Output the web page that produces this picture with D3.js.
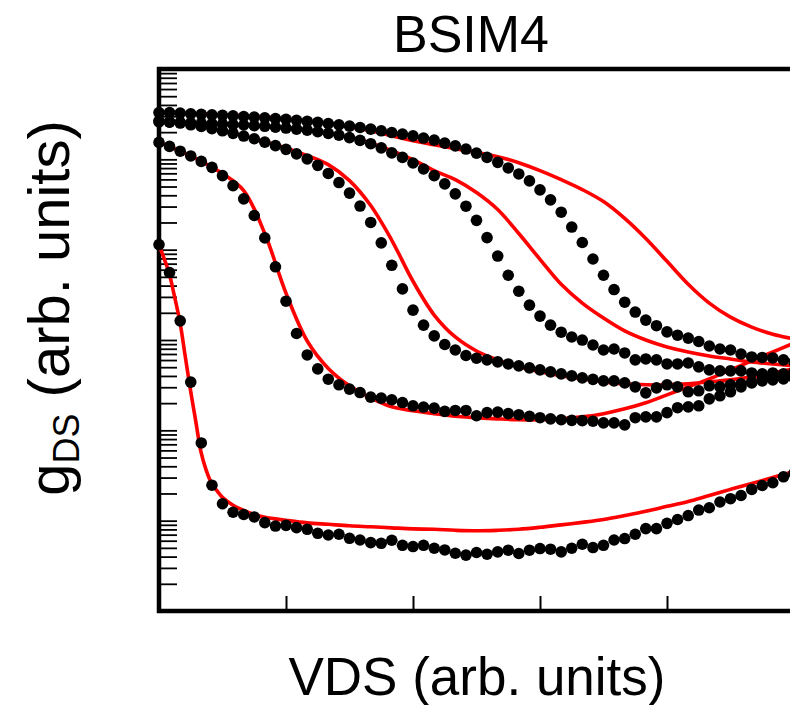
<!DOCTYPE html>
<html><head><meta charset="utf-8">
<script src="https://cdn.jsdelivr.net/npm/d3@7"></script>
<style>body{margin:0;background:#fff} svg{display:block}</style>
</head><body><svg id="c" width="790" height="705"></svg>
<script>
// Measured VDS grid (arb. units)
const vds = [0,0.083,0.167,0.25,0.333,0.417,0.5,0.583,0.667,0.75,0.833,0.917,
  1,1.083,1.167,1.25,1.333,1.417,1.5,1.583,1.667,1.75,1.833,1.917,
  2,2.083,2.167,2.25,2.333,2.417,2.5,2.583,2.667,2.75,2.833,2.917,
  3,3.083,3.167,3.25,3.333,3.417,3.5,3.583,3.667,3.75,3.833,3.917,
  4,4.083,4.167,4.25,4.333,4.417,4.5,4.583,4.667,4.75,4.833,4.917,5];

// Measured gDS (black dots)
const gds1 = [3.29e5,3.29e5,3.25e5,3.19e5,3.15e5,3.11e5,3.07e5,3.03e5,2.98e5,2.93e5,2.88e5,2.82e5,2.77e5,2.70e5,2.63e5,2.57e5,2.49e5,2.41e5,2.33e5,2.25e5,2.16e5,2.07e5,1.98e5,1.90e5,1.82e5,1.72e5,1.63e5,1.51e5,1.41e5,1.30e5,1.17e5,1.05e5,9.26e4,8.03e4,6.89e4,5.77e4,4.59e4,3.56e4,2.60e4,1.78e4,1.20e4,7.88e3,5.21e3,3.62e3,2.62e3,2.04e3,1.66e3,1.44e3,1.23e3,1.13e3,1.05e3,962,858,795,775,700,649,641,633,602,572];
const gds2 = [2.60e5,2.58e5,2.56e5,2.54e5,2.51e5,2.48e5,2.46e5,2.43e5,2.40e5,2.36e5,2.32e5,2.27e5,2.22e5,2.16e5,2.10e5,2.02e5,1.94e5,1.85e5,1.74e5,1.62e5,1.49e5,1.34e5,1.18e5,1.05e5,9.11e4,7.82e4,6.60e4,5.35e4,4.15e4,3.03e4,2.11e4,1.36e4,8.50e3,5.21e3,3.47e3,2.43e3,1.84e3,1.46e3,1.22e3,1.08e3,999,880,775,795,719,602,617,602,543,543,557,504,467,455,455,455,432,422,432,411,401];
const gds3 = [2.67e5,2.60e5,2.52e5,2.41e5,2.31e5,2.19e5,2.07e5,1.94e5,1.81e5,1.69e5,1.55e5,1.42e5,1.29e5,1.15e5,1.01e5,8.58e4,6.98e4,5.53e4,4.23e4,3.04e4,2.00e4,1.19e4,6.71e3,3.68e3,2.14e3,1.46e3,1.11e3,892,775,674,628,602,572,543,517,491,467,444,422,401,381,367,353,353,335,303,260,295,319,303,267,274,311,303,319,327,344,353,362,371,381];
const gds4 = [1.54e5,1.39e5,1.23e5,1.09e5,9.49e4,8.15e4,6.60e4,5.12e4,3.65e4,2.39e4,1.35e4,6.46e3,2.69e3,1.18e3,683,479,368,319,286,262,233,227,218,203,187,181,176,162,166,166,145,157,159,153,149,143,138,134,131,129,128,126,121,121,115,138,141,141,157,178,182,187,223,241,267,303,335,371,391,422,444];
const gds5 = [1.14e4,5.58e3,1.63e3,342,72.5,24.7,15.4,12.4,11.7,11.0,9.51,8.72,8.88,8.38,8.02,7.25,6.94,7.07,6.38,6.11,5.72,5.62,6.07,5.34,5.17,5.34,4.95,4.74,4.36,4.15,4.44,4.25,4.51,4.71,4.33,4.71,4.91,4.83,4.51,4.95,5.48,5.04,5.34,6.11,6.34,7.07,8.17,8.17,9.34,10.3,11.4,13.1,13.9,16.1,17.5,19.0,22.2,24.5,26.3,30.6,33.3];

// BSIM4 model curves (red)
const modelV = [0,0.167,0.333,0.5,0.667,0.833,1,1.167,1.333,1.5,1.667,1.833,2,2.167,2.333,2.5,2.667,2.833,3,3.167,3.333,3.5,3.667,3.833,4,4.167,4.333,4.5,4.667,4.833,5];
const model1 = [3.27e5,3.23e5,3.19e5,3.11e5,3.03e5,2.95e5,2.81e5,2.67e5,2.50e5,2.29e5,2.07e5,1.82e5,1.61e5,1.45e5,1.31e5,1.20e5,1.07e5,9.18e4,7.50e4,5.96e4,4.63e4,3.41e4,2.22e4,1.33e4,7.43e3,4.14e3,2.56e3,1.79e3,1.39e3,1.16e3,1.03e3];
const model2 = [2.60e5,2.56e5,2.51e5,2.46e5,2.40e5,2.32e5,2.22e5,2.10e5,1.94e5,1.74e5,1.51e5,1.25e5,9.91e4,7.50e4,5.96e4,4.29e4,2.78e4,1.51e4,7.82e3,4.14e3,2.56e3,1.75e3,1.26e3,999,837,737,666,617,572,543,517];
const model3 = [2.67e5,2.52e5,2.31e5,2.07e5,1.82e5,1.57e5,1.34e5,1.10e5,8.73e4,5.81e4,3.08e4,1.27e4,4.47e3,1.89e3,1.08e3,756,602,504,444,401,371,344,327,319,319,327,344,362,391,432,479];
const model4 = [1.54e5,1.23e5,9.49e4,6.95e4,4.51e4,1.51e4,3.30e3,975,485,311,229,182,165,153,143,138,134,131,131,134,141,153,173,202,247,303,371,467,587,737,926];
const model5V = [0,0.04,0.08,0.12,0.165,0.205,0.245,0.29,0.33,0.37,0.415,0.46,0.5,0.583,0.667,0.75,0.833,1,1.167,1.333,1.5,1.667,1.833,2,2.167,2.333,2.5,2.667,2.833,3,3.167,3.333,3.5,3.667,3.833,4,4.167,4.333,4.5,4.667,4.833,5];
const model5 = [1.12e4,8.02e3,5.48e3,3.13e3,1.58e3,683,295,125,58.2,36.8,25.8,21.1,18.1,14.8,13.0,11.7,10.9,10.1,9.46,9.11,8.77,8.55,8.33,8.12,8.02,7.82,7.72,7.82,8.02,8.44,8.99,9.58,10.3,11.4,12.7,14.4,16.3,19.0,22.2,25.8,30.0,35.0];

const xTicks = [1,2,3,4];
const titleText = "BSIM4";
const xLabel = "VDS (arb. units)";

const FONT = "'Liberation Sans', Arial, Helvetica, sans-serif";
const svg = d3.select('#c');
const x = d3.scaleLinear().domain([0,5]).range([159,794]);
const y = d3.scaleLog().domain([1,1e6]).range([611,69]);

// y axis minor/major ticks (inward)
const yAx = svg.append('g').attr('transform','translate(159,0)')
  .call(d3.axisRight(y).tickValues(y.ticks()).tickSize(18).tickFormat(''));
yAx.select('.domain').remove();
yAx.selectAll('line').attr('stroke','#000').attr('stroke-width',1.8);

const xAx = svg.append('g').attr('transform','translate(0,611)')
  .call(d3.axisTop(x).tickValues(xTicks).tickSize(15).tickFormat(''));
xAx.select('.domain').remove();
xAx.selectAll('line').attr('stroke','#000').attr('stroke-width',2);

// frame
svg.append('rect').attr('x',x(0)).attr('y',y(1e6)).attr('width',x(5)-x(0)).attr('height',y(1)-y(1e6))
  .attr('fill','none').attr('stroke','#000').attr('stroke-width',4.5);

// model lines
const line = d3.line().x(d=>x(d[0])).y(d=>y(d[1])).curve(d3.curveCatmullRom.alpha(0.5));
const models = [[modelV,model1],[modelV,model2],[modelV,model3],[modelV,model4],[model5V,model5]];
models.forEach(([vs,gs]) => {
  svg.append('path').attr('d', line(vs.map((v,i)=>[v,gs[i]])))
    .attr('fill','none').attr('stroke','#ff0000').attr('stroke-width',3.6).attr('stroke-linejoin','round');
});

// measured dots
[gds1,gds2,gds3,gds4,gds5].forEach(s => {
  svg.append('g').selectAll('circle').data(s).join('circle')
    .attr('cx',(d,i)=>x(vds[i])).attr('cy',d=>y(d)).attr('r',5.8).attr('fill','#000');
});

// texts
svg.append('text').attr('x',471).attr('y',52).attr('text-anchor','middle')
  .attr('font-family',FONT).attr('font-size',52).attr('fill','#000').text(titleText);
svg.append('text').attr('x',477).attr('y',695).attr('text-anchor','middle')
  .attr('font-family',FONT).attr('font-size',53).attr('fill','#000').text(xLabel);
const yl = svg.append('text').attr('transform','translate(69,308) rotate(-90)').attr('text-anchor','middle')
  .attr('font-family',FONT).attr('font-size',58).attr('fill','#000');
yl.append('tspan').text('g');
yl.append('tspan').attr('font-size',36).attr('dy',10).text('DS');
yl.append('tspan').attr('dy',-10).text(' (arb. units)');
</script></body></html>
